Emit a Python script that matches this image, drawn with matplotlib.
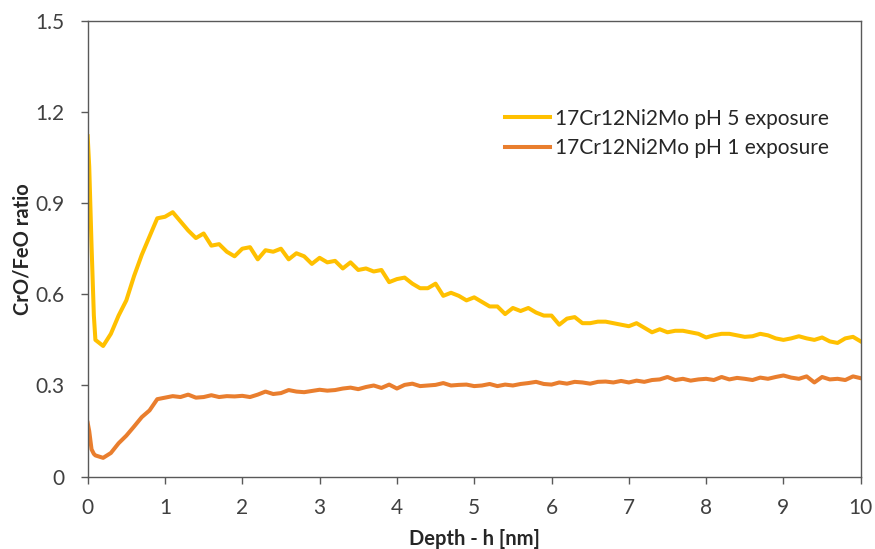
import numpy as np
import matplotlib
matplotlib.use("Agg")
import matplotlib.pyplot as plt

plt.rcParams['font.family'] = ['Lato', 'DejaVu Sans']

# Depth grid [nm]
depth = [0.0, 0.02, 0.05, 0.08] + [round(0.1 * i, 1) for i in range(1, 101)]

ph5 = [1.12, 1.02, 0.76, 0.53,
       0.45, 0.43, 0.47, 0.53, 0.58, 0.66, 0.73, 0.79, 0.85, 0.855,
       0.87, 0.84, 0.81, 0.785, 0.80, 0.76, 0.765, 0.74, 0.725, 0.75,
       0.755, 0.715, 0.745, 0.74, 0.75, 0.715, 0.735, 0.725, 0.70, 0.72,
       0.705, 0.71, 0.685, 0.705, 0.68, 0.685, 0.675, 0.68, 0.64, 0.65,
       0.655, 0.635, 0.62, 0.62, 0.635, 0.595, 0.605, 0.595, 0.58, 0.59,
       0.575, 0.56, 0.56, 0.535, 0.555, 0.545, 0.555, 0.54, 0.53, 0.53,
       0.50, 0.52, 0.525, 0.505, 0.505, 0.51, 0.51, 0.505, 0.50, 0.495,
       0.505, 0.49, 0.475, 0.485, 0.475, 0.48, 0.48, 0.475, 0.47, 0.458,
       0.465, 0.47, 0.47, 0.465, 0.46, 0.462, 0.47, 0.465, 0.455, 0.45,
       0.455, 0.462, 0.455, 0.45, 0.458, 0.445, 0.44, 0.455, 0.46, 0.445]

ph1 = [0.177, 0.15, 0.09, 0.075,
       0.07, 0.062, 0.078, 0.11, 0.135, 0.165, 0.196, 0.218, 0.255, 0.26,
       0.265, 0.262, 0.27, 0.26, 0.262, 0.268, 0.262, 0.265, 0.264, 0.266,
       0.262, 0.27, 0.28, 0.272, 0.275, 0.285, 0.28, 0.278, 0.282, 0.286,
       0.283, 0.285, 0.29, 0.293, 0.288, 0.295, 0.30, 0.292, 0.303, 0.29,
       0.302, 0.306, 0.298, 0.30, 0.302, 0.308, 0.30, 0.302, 0.303, 0.298,
       0.30, 0.305, 0.298, 0.303, 0.30, 0.305, 0.308, 0.312, 0.305, 0.303,
       0.31, 0.306, 0.312, 0.31, 0.306, 0.312, 0.313, 0.31, 0.315, 0.31,
       0.316, 0.312, 0.318, 0.32, 0.328, 0.318, 0.322, 0.316, 0.32, 0.322,
       0.318, 0.328, 0.32, 0.325, 0.322, 0.318, 0.326, 0.322, 0.328, 0.333,
       0.326, 0.322, 0.33, 0.31, 0.328, 0.32, 0.322, 0.318, 0.33, 0.324]

labels = ["17Cr12Ni2Mo pH 5 exposure", "17Cr12Ni2Mo pH 1 exposure"]
xticks = [0, 1, 2, 3, 4, 5, 6, 7, 8, 9, 10]
yticks = [0, 0.3, 0.6, 0.9, 1.2, 1.5]
yticklabels = ["0", "0.3", "0.6", "0.9", "1.2", "1.5"]

fig = plt.figure(figsize=(8.75, 5.49), dpi=100)
ax = fig.add_axes([0.1002, 0.1317, 0.8835, 0.8306])

ax.plot(depth, ph5, color="#FFC000", lw=2.9, label=labels[0], solid_joinstyle="round")
ax.plot(depth, ph1, color="#E97E2E", lw=2.9, label=labels[1], solid_joinstyle="round")

ax.set_xlim(0, 10)
ax.set_ylim(0, 1.5)
ax.set_xticks(xticks)
ax.set_yticks(yticks)
ax.set_yticklabels(yticklabels)

for s in ax.spines.values():
    s.set_color("#595959")
    s.set_linewidth(1.0)
ax.tick_params(axis="both", direction="out", length=5, width=1.0, color="#595959",
               labelsize=15, labelcolor="#404040")
ax.tick_params(axis="y", pad=12)
ax.tick_params(axis="x", pad=10)

ax.set_xlabel("Depth - h [nm]", fontsize=14.5, fontweight="bold", color="#262626", labelpad=8)
ax.set_ylabel("CrO/FeO ratio", fontsize=14.5, fontweight="bold", color="#262626", labelpad=2)

leg = ax.legend(loc="upper left", bbox_to_anchor=(0.54, 0.807), frameon=False,
                fontsize=15, handlelength=2.15, handletextpad=0.25, labelspacing=0.45,
                borderpad=0, borderaxespad=0)
for t in leg.get_texts():
    t.set_color("#262626")

fig.savefig("out.png", dpi=100)
